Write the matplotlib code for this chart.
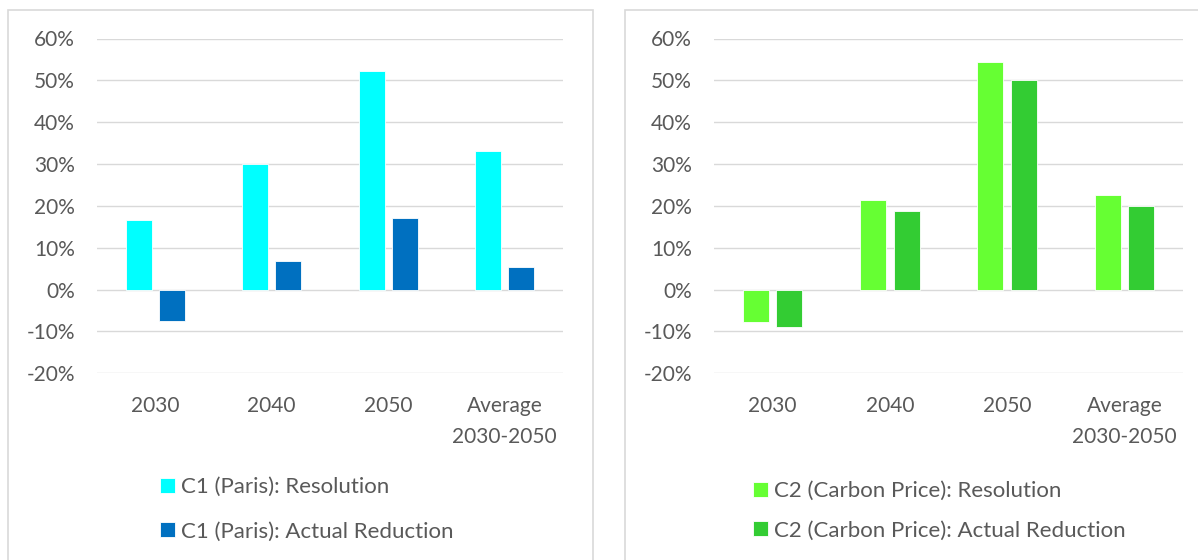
import numpy as np
import matplotlib as mpl
import matplotlib.pyplot as plt
from matplotlib.patches import Rectangle

mpl.rcParams.update({
    "font.family": ["Lato", "DejaVu Sans"],
    "font.size": 15,
    "text.color": "#595959",
    "xtick.color": "#595959",
    "ytick.color": "#595959",
})

categories = ["2030", "2040", "2050", "Average\n2030-2050"]
yticks = [-0.2, -0.1, 0.0, 0.1, 0.2, 0.3, 0.4, 0.5, 0.6]

c1_resolution = [0.167, 0.301, 0.523, 0.331]
c1_actual = [-0.076, 0.068, 0.172, 0.054]
c2_resolution = [-0.078, 0.213, 0.543, 0.226]
c2_actual = [-0.089, 0.188, 0.500, 0.199]

C = {"c1r": "#00FFFF", "c1a": "#0070C0", "c2r": "#66FF33", "c2a": "#33CC33"}
GRID = "#D9D9D9"
W, H = 1198, 560

fig = plt.figure(figsize=(W / 100, H / 100), dpi=100)

# panel frames (pixel coords -> figure fraction)
for x0, x1 in [(8, 593), (625, 1210)]:
    fig.patches.append(Rectangle((x0 / W, -0.1), (x1 - x0) / W, 1.1 - 9.5 / H,
                                 transform=fig.transFigure, fill=False,
                                 edgecolor=GRID, lw=1.2))


def panel(left_px, right_px, s1, s2, l1, l2, c1, c2, leg_xy, leg_gap):
    ax = fig.add_axes([left_px / W, 1 - 373.3 / H, (right_px - left_px) / W, (373.3 - 38.5) / H])
    x = np.arange(len(categories))
    w, off = 0.222, 0.143
    b1 = ax.bar(x - off, s1, w, color=c1, edgecolor="white", lw=0.6, zorder=3, label=l1)
    b2 = ax.bar(x + off, s2, w, color=c2, edgecolor="white", lw=0.6, zorder=3, label=l2)
    ax.set_xlim(-0.5, len(categories) - 0.5)
    ax.set_ylim(-0.2, 0.6)
    ax.set_yticks(yticks)
    ax.set_yticklabels([f"{round(v * 100)}%" for v in yticks])
    ax.set_xticks(x)
    ax.set_xticklabels(categories, linespacing=1.7)
    ax.tick_params(length=0)
    ax.tick_params(axis="y", pad=16)
    ax.tick_params(axis="x", pad=16)
    ax.grid(axis="y", color=GRID, lw=1.0, zorder=0)
    for sp in ax.spines.values():
        sp.set_visible(False)
    ax.legend(handles=[b1, b2], loc="upper left",
              bbox_to_anchor=(leg_xy[0] / W, 1 - leg_xy[1] / H),
              bbox_transform=fig.transFigure, frameon=False, fontsize=16,
              borderpad=0, borderaxespad=0, handlelength=0.68, handleheight=0.68,
              handletextpad=0.25, labelspacing=leg_gap)
    return ax


panel(97, 563, c1_resolution, c1_actual,
      "C1 (Paris): Resolution", "C1 (Paris): Actual Reduction",
      C["c1r"], C["c1a"], (160, 477), 1.1)
panel(714, 1183, c2_resolution, c2_actual,
      "C2 (Carbon Price): Resolution", "C2 (Carbon Price): Actual Reduction",
      C["c2r"], C["c2a"], (753, 481), 0.88)

fig.savefig("out.png", dpi=100)
